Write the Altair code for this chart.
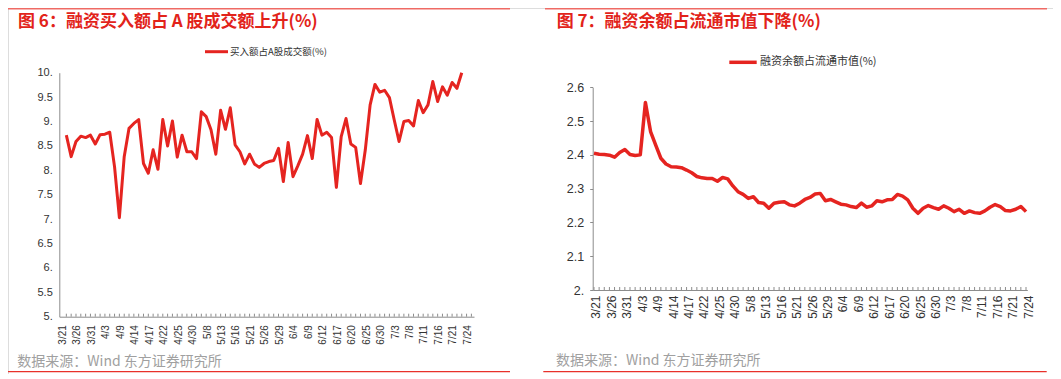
import json
import altair as alt
import pandas as pd

# ---------------- data ----------------
dates = [
    "3/21", "3/24", "3/25", "3/26", "3/27", "3/28", "3/31",
    "4/1", "4/2", "4/3", "4/7", "4/8", "4/9", "4/10", "4/11", "4/14", "4/15", "4/16",
    "4/17", "4/18", "4/21", "4/22", "4/23", "4/24", "4/25", "4/28", "4/29", "4/30",
    "5/6", "5/7", "5/8", "5/9", "5/12", "5/13", "5/14", "5/15", "5/16", "5/19", "5/20",
    "5/21", "5/22", "5/23", "5/26", "5/27", "5/28", "5/29", "5/30",
    "6/3", "6/4", "6/5", "6/6", "6/9", "6/10", "6/11", "6/12", "6/13", "6/16", "6/17",
    "6/18", "6/19", "6/20", "6/23", "6/24", "6/25", "6/26", "6/27", "6/30",
    "7/1", "7/2", "7/3", "7/4", "7/7", "7/8", "7/9", "7/10", "7/11", "7/14", "7/15",
    "7/16", "7/17", "7/18", "7/21", "7/22", "7/23", "7/24",
]
x_labels = [
    "3/21", "3/26", "3/31", "4/3", "4/9", "4/14", "4/17", "4/22", "4/25", "4/30",
    "5/8", "5/13", "5/16", "5/21", "5/26", "5/29", "6/4", "6/9", "6/12", "6/17",
    "6/20", "6/25", "6/30", "7/3", "7/8", "7/11", "7/16", "7/21", "7/24",
]
buy_ratio = [
    8.72, 8.28, 8.59, 8.70, 8.67, 8.72, 8.54, 8.73, 8.74, 8.78,
    8.07, 7.03, 8.28, 8.86, 8.96, 9.04, 8.14, 7.94, 8.42, 8.02,
    9.04, 8.50, 9.01, 8.27, 8.72, 8.38, 8.38, 8.24, 9.20, 9.10,
    8.83, 8.33, 9.23, 8.84, 9.28, 8.52, 8.38, 8.13, 8.33, 8.13,
    8.06, 8.14, 8.18, 8.20, 8.45, 7.77, 8.57, 7.87, 8.09, 8.33,
    8.71, 8.24, 9.04, 8.72, 8.78, 8.67, 7.65, 8.69, 9.06, 8.54,
    8.47, 7.73, 8.42, 9.34, 9.76, 9.60, 9.64, 9.49, 9.03, 8.59,
    9.00, 9.02, 8.91, 9.43, 9.18, 9.34, 9.82, 9.41, 9.71, 9.54,
    9.80, 9.68, 10.0,
]
margin_ratio = [
    2.405, 2.402, 2.401, 2.399, 2.393, 2.407, 2.416, 2.401, 2.398, 2.400,
    2.555, 2.469, 2.429, 2.390, 2.373, 2.365, 2.364, 2.362, 2.355, 2.347,
    2.336, 2.332, 2.330, 2.330, 2.322, 2.333, 2.329, 2.308, 2.291, 2.283,
    2.271, 2.276, 2.259, 2.257, 2.242, 2.257, 2.260, 2.261, 2.252, 2.249,
    2.257, 2.268, 2.274, 2.284, 2.286, 2.264, 2.268, 2.261, 2.254, 2.252,
    2.247, 2.244, 2.257, 2.245, 2.249, 2.264, 2.261, 2.267, 2.268, 2.283,
    2.278, 2.267, 2.242, 2.227, 2.242, 2.250, 2.244, 2.239, 2.249, 2.242,
    2.232, 2.239, 2.227, 2.234, 2.229, 2.227, 2.234, 2.245, 2.253, 2.247,
    2.235, 2.234, 2.239, 2.247, 2.232,
]
left_y_ticks = [5, 5.5, 6, 6.5, 7, 7.5, 8, 8.5, 9, 9.5, 10]
right_y_ticks = [2.0, 2.1, 2.2, 2.3, 2.4, 2.5, 2.6]

title_left = "图 6：融资买入额占 A 股成交额上升(%)"
title_right = "图 7：融资余额占流通市值下降(%)"
legend_left = "买入额占A股成交额(%)"
legend_right = "融资余额占流通市值(%)"
source_text = "数据来源：Wind 东方证券研究所"

# ---------------- styling ----------------
W, H = 1045, 366
RED = "#e52420"
TITLE_RED = "#e2231a"
AX = "#8c8c8c"
CJK = "Noto Sans CJK SC"
LAT = "Liberation Sans"

x_label_expr = "indexof(" + json.dumps(x_labels) + ", datum.label) >= 0 ? datum.label : ''"
y_label_expr = "datum.value % 1 == 0 ? format(datum.value, 'd') + '.' : format(datum.value, '.1f')"

left_df = pd.DataFrame({"date": dates[:len(buy_ratio)], "v": buy_ratio, "i": list(range(len(buy_ratio)))})
right_df = pd.DataFrame({"date": dates, "v": margin_ratio, "i": list(range(len(margin_ratio)))})
tick_df = pd.DataFrame({"date": dates})


def panel(df, x_range, pad, align, y_dom, y_range, y_vals, x_axis_y, ylab_size,
          xlab_size, xlab_pad, xlab_off, ytick, ylab_pad, stroke_w):
    xs = alt.Scale(type="point", domain=dates, range=x_range, padding=pad, align=align)
    ys = alt.Scale(domain=y_dom, range=y_range, nice=False, zero=False)
    x_axis = alt.Axis(
        orient="bottom", offset=x_axis_y - H, title=None, grid=False, ticks=False,
        domainColor=AX, domainWidth=1, labelAngle=270, labelFont=LAT,
        labelFontSize=xlab_size, labelColor="#333333", labelPadding=xlab_pad,
        labelOffset=xlab_off, labelOverlap=False, labelExpr=x_label_expr,
    )
    y_axis = alt.Axis(
        orient="left", offset=-x_range[0], title=None, grid=False, values=y_vals,
        ticks=ytick > 0, tickSize=max(ytick, 1), tickColor=AX, domainColor=AX,
        domainWidth=1, labelFont=LAT, labelFontSize=ylab_size, labelColor="#333333",
        labelPadding=ylab_pad, labelExpr=y_label_expr, labelOverlap=False,
    )
    line = alt.Chart(df).mark_line(color=RED, strokeWidth=stroke_w, strokeJoin="round").encode(
        x=alt.X("date:O", scale=xs, axis=x_axis),
        y=alt.Y("v:Q", scale=ys, axis=y_axis),
        order="i:Q",
    )
    ticks = alt.Chart(tick_df).mark_rule(color=AX, strokeWidth=1).encode(
        x=alt.X("date:O", scale=xs, axis=x_axis),
        y=alt.value(x_axis_y - 3),
        y2=alt.value(x_axis_y),
    )
    return alt.layer(ticks, line)


left_panel = panel(left_df, [51.3, 466.0], 1.05, 0.73, [5, 10], [308.7, 64.7],
                   left_y_ticks, 308.7, 11, 10, 8, -4, 0, 7, 3)
right_panel = panel(right_df, [584.7, 1019.3], 0.25, 0.5, [2.0, 2.6], [282.0, 79.3],
                    right_y_ticks, 282.0, 12.5, 12, 5, 2, 3, 6, 3.5)


def txt(s, x, y, size, color, weight="normal", font=CJK):
    return alt.Chart(pd.DataFrame({"t": [s]})).mark_text(
        align="left", baseline="middle", font=font, fontSize=size,
        fontWeight=weight, color=color,
    ).encode(text="t:N", x=alt.value(x), y=alt.value(y))


def hline(x1, x2, y, color, w):
    return alt.Chart(pd.DataFrame({"a": [0]})).mark_rule(color=color, strokeWidth=w).encode(
        x=alt.value(x1), x2=alt.value(x2), y=alt.value(y)
    )


decor = [
    hline(0, 502, 0.75, "#ef6a64", 1.5),
    hline(537, 1039, 0.75, "#ef6a64", 1.5),
    txt(title_left, 10, 14, 17, TITLE_RED, "bold"),
    txt(title_right, 548.7, 14, 17, TITLE_RED, "bold"),
    hline(197, 220, 43.7, RED, 3),
    txt(legend_left, 222, 43.7, 9.5, "#333333"),
    hline(721.3, 748.7, 54.3, RED, 3.5),
    txt(legend_right, 752, 54.3, 11, "#333333"),
    txt(source_text, 9.3, 353.7, 14, "#a0a0a0"),
    txt(source_text, 548, 353.2, 14, "#a0a0a0"),
    hline(0, 502, 363.7, "#e8312a", 1.2),
    hline(535.3, 1038.7, 363.7, "#e8312a", 1.2),
]

chart = alt.layer(left_panel, right_panel, *decor).resolve_scale(
    x="independent", y="independent"
).properties(
    width=W, height=H, autosize=alt.AutoSizeParams(type="none"), padding=0,
).configure_view(stroke=None).configure(background="white")

chart.save("out.html", embed_options={"renderer": "svg", "actions": False})
